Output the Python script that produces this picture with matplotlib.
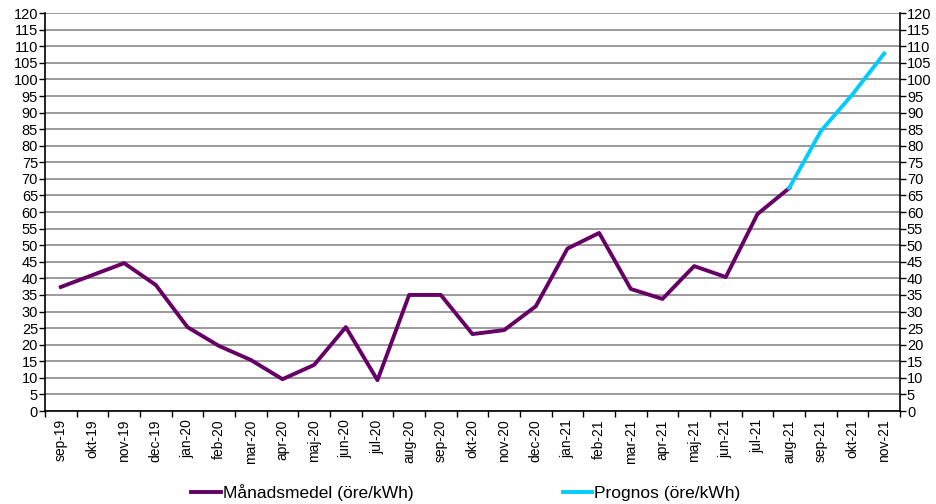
import numpy as np
import matplotlib
matplotlib.use("Agg")
import matplotlib.pyplot as plt

plt.rcParams['font.family'] = ['Liberation Sans', 'DejaVu Sans']

months = ["sep-19", "okt-19", "nov-19", "dec-19", "jan-20", "feb-20", "mar-20",
          "apr-20", "maj-20", "jun-20", "jul-20", "aug-20", "sep-20", "okt-20",
          "nov-20", "dec-20", "jan-21", "feb-21", "mar-21", "apr-21", "maj-21",
          "jun-21", "jul-21", "aug-21", "sep-21", "okt-21", "nov-21"]

manadsmedel = [37.4, 41.0, 44.6, 38.0, 25.3, 19.6, 15.4, 9.6, 13.9, 25.3, 9.3,
               35.0, 35.0, 23.2, 24.4, 31.6, 49.0, 53.7, 36.8, 33.8, 43.7, 40.4,
               59.4, 67.2]
prognos_months = ["aug-21", "sep-21", "okt-21", "nov-21"]
prognos = [67.2, 84.4, 95.5, 107.8]

x = np.arange(len(months))
x_prog = [months.index(m) for m in prognos_months]

fig = plt.figure(figsize=(9.37, 5.04), dpi=100)
ax = fig.add_axes([0.048, 0.1845, 0.9125, 0.7895])

ax.plot(x[:len(manadsmedel)], manadsmedel, color="#660066", lw=2.8,
        label="Månadsmedel (öre/kWh)", zorder=3)
ax.plot(x_prog, prognos, color="#00CCFF", lw=2.8,
        label="Prognos (öre/kWh)", zorder=3)

ax.set_xlim(-0.5, len(months) - 0.5)
ax.set_ylim(0, 120)
ax.set_yticks(np.arange(0, 121, 5))
ax.yaxis.grid(True, color="#808080", lw=1.1)
ax.set_axisbelow(True)
ax.tick_params(axis="y", which="both", labelsize=10.5, length=4, width=1,
               left=True, right=True, labelleft=True, labelright=True, pad=1)

# category axis: ticks between categories, labels at centres
ax.set_xticks(np.arange(-0.5, len(months), 1))
ax.set_xticklabels([])
ax.set_xticks(x, minor=True)
ax.set_xticklabels(months, minor=True, rotation=90, fontsize=10)
ax.tick_params(axis="x", which="major", length=4, width=1)
ax.tick_params(axis="x", which="minor", length=0, pad=6)

ax.spines["top"].set_visible(False)
for s in ["left", "right", "bottom"]:
    ax.spines[s].set_linewidth(1.2)
    ax.spines[s].set_color("black")

fig.legend(loc="lower center", bbox_to_anchor=(0.497, -0.025), ncol=2,
           frameon=False, fontsize=12.5, handlelength=1.7, handletextpad=0.1,
           columnspacing=8.6)

fig.savefig("out.png", dpi=100)
